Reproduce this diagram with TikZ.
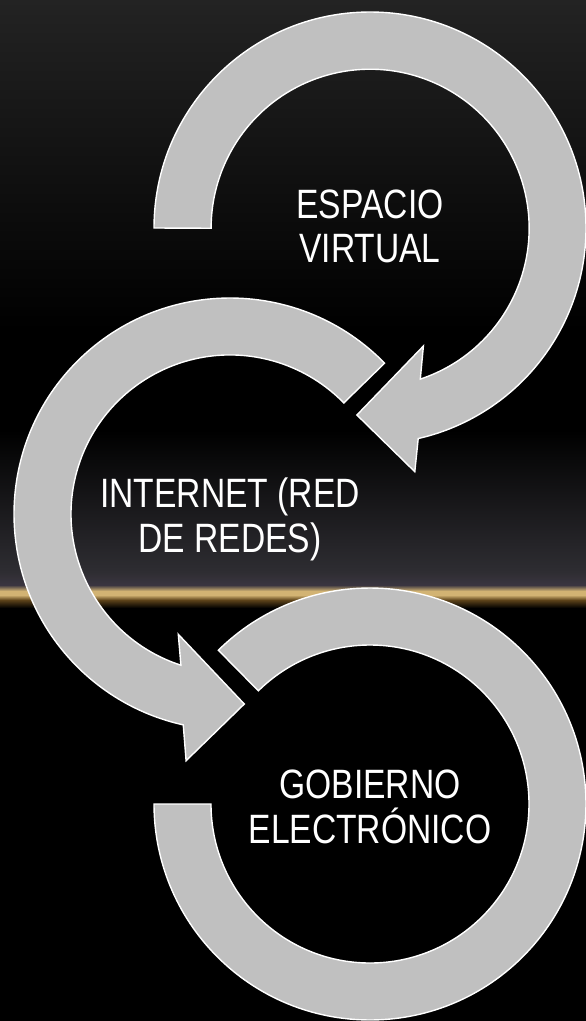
\documentclass[tikz,border=0pt]{standalone}
\usepackage{fontspec}
\newfontfamily\lblfont{Liberation Sans}[FakeStretch=0.82]
\definecolor{ringgray}{HTML}{C0C0C0}
\definecolor{bgtop}{HTML}{232323}
\definecolor{hazec}{HTML}{2E2D32}
\definecolor{hazep}{HTML}{3A3540}
\definecolor{goldc}{HTML}{D2B373}
\definecolor{brownc}{HTML}{5C4219}
\tikzset{
  ring/.style={fill=ringgray, draw=white, line width=1.4pt, line join=miter},
  lbl/.style={text=white, font=\lblfont\fontsize{41}{44}\selectfont, inner sep=0pt, anchor=base}
}
\begin{document}
\begin{tikzpicture}[x=1pt,y=1pt]
\useasboundingbox (0,0) rectangle (586,-1021);
% background
\fill[black] (0,0) rectangle (586,-1021);
\shade[top color=bgtop, bottom color=black] (0,0) rectangle (586,-330);
\shade[top color=black, bottom color=hazec] (0,-430) rectangle (586,-572);
\shade[top color=hazec, bottom color=hazep] (0,-572) rectangle (586,-585);
\shade[top color=hazep, bottom color=goldc] (0,-585) rectangle (586,-591);
\fill[goldc] (0,-591) rectangle (586,-595);
\shade[top color=goldc, bottom color=brownc] (0,-595) rectangle (586,-600);
\shade[top color=brownc, bottom color=black] (0,-600) rectangle (586,-608);

% centres
\coordinate (C1) at (370,-228);
\coordinate (C2) at (230,-514);
\coordinate (C3) at (370,-804);

% arrow 1
\draw[ring] (C1) ++(180:216) arc[start angle=180, end angle=-77.1, radius=216]
  -- (414.8,-471.7) -- (356.9,-415) -- (423.4,-346)
  -- (420.3,-379.1) arc[start angle=-71.6, end angle=180, radius=159] -- cycle;

% arrow 2
\draw[ring] (C2) ++(44.3:216) arc[start angle=44.3, end angle=257.5, radius=216]
  -- (186.1,-760.7) -- (244.3,-704) -- (178.3,-634.3)
  -- (180.9,-665.2) arc[start angle=252, end angle=44.3, radius=159] -- cycle;

% arrow 3
\draw[ring] (C3) ++(134.6:216) arc[start angle=134.6, end angle=-180, radius=216]
  -- ++(57,0) arc[start angle=-180, end angle=134.6, radius=159] -- cycle;

% labels
\node[lbl] (t1a) at (370,-218) {ESPACIO};
\node[lbl] (t1b) at (370,-262) {VIRTUAL};
\node[lbl] (t2a) at (230,-507) {INTERNET (RED};
\node[lbl] (t2b) at (230,-552) {DE REDES)};
\node[lbl] (t3a) at (370,-798) {GOBIERNO};
\node[lbl] (t3b) at (370,-843) {ELECTRÓNICO};
\end{tikzpicture}
\end{document}
